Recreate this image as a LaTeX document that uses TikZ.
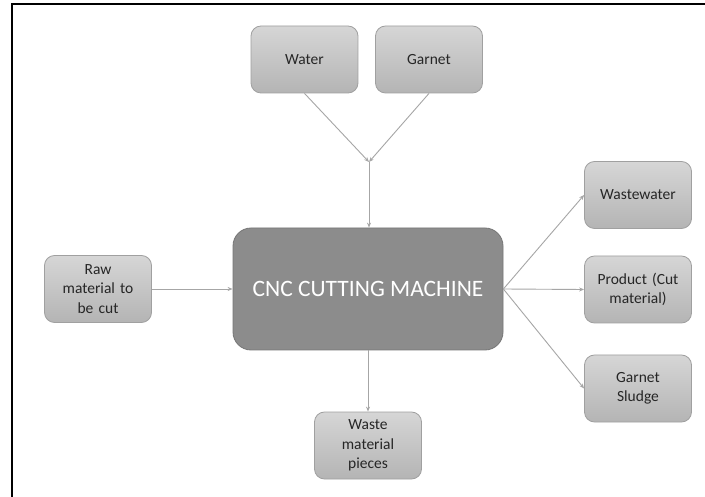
\documentclass[tikz,border=0pt]{standalone}
\usepackage{fontspec}
\setmainfont{Carlito}
\usetikzlibrary{arrows.meta}
\definecolor{boxtop}{HTML}{D6D6D6}
\definecolor{boxbot}{HTML}{B4B4B4}
\definecolor{boxline}{HTML}{A0A0A0}
\definecolor{txt}{HTML}{262626}
\definecolor{arr}{HTML}{A6A6A6}
\definecolor{cncfill}{HTML}{8C8C8C}
\definecolor{cncline}{HTML}{767676}
\tikzset{
  smallbox/.style={draw=boxline, line width=0.8pt, rounded corners=10pt,
    top color=boxtop, bottom color=boxbot, text=txt,
    minimum width=107pt, minimum height=67pt, align=center,
    font=\fontsize{15.5}{19.5}\selectfont, inner sep=2pt, text width=100pt},
  bigbox/.style={draw=cncline, line width=0.8pt, rounded corners=18pt,
    fill=cncfill, text=white, minimum width=270pt, minimum height=122pt,
    font=\fontsize{23.5}{28}\selectfont},
  conn/.style={draw=arr, line width=0.9pt, -{Stealth[length=5pt,width=4pt]}},
  plain/.style={draw=arr, line width=0.9pt},
}
\begin{document}
\begin{tikzpicture}[x=1pt,y=-1pt]
\useasboundingbox (0,0) rectangle (705,497);
\fill[white] (0,0) rectangle (705,497);
\draw[black, line width=2pt] (12,497) -- (12,4) -- (705,4);
\node[smallbox] (water) at (304.5,59.5) {Water};
\node[smallbox] (garnet) at (429,59.5) {Garnet};
\node[bigbox] (cnc) at (368,289) {CNC CUTTING MACHINE};
\node[smallbox] (raw) at (98,289) {Raw\\material to\\be cut};
\node[smallbox] (ww) at (638,195) {Wastewater};
\node[smallbox] (prod) at (638,289.5) {Product (Cut\\material)};
\node[smallbox] (sludge) at (638,388.5) {Garnet\\Sludge};
\node[smallbox] (waste) at (368,445.5) {Waste\\material\\pieces};
\coordinate (j) at (369,162);
\draw[conn] (water.south) -- (j);
\draw[conn] (garnet.south) -- (j);
\draw[conn] (j) -- (cnc.north -| j);
\draw[conn] (raw.east) -- (cnc.west);
\coordinate (fan) at (cnc.east);
\draw[conn] (fan) -- (ww.west);
\draw[conn] (fan) -- (prod.west);
\draw[conn] (fan) -- (sludge.west);
\draw[conn] (cnc.south) -- (waste.north);
\end{tikzpicture}
\end{document}
